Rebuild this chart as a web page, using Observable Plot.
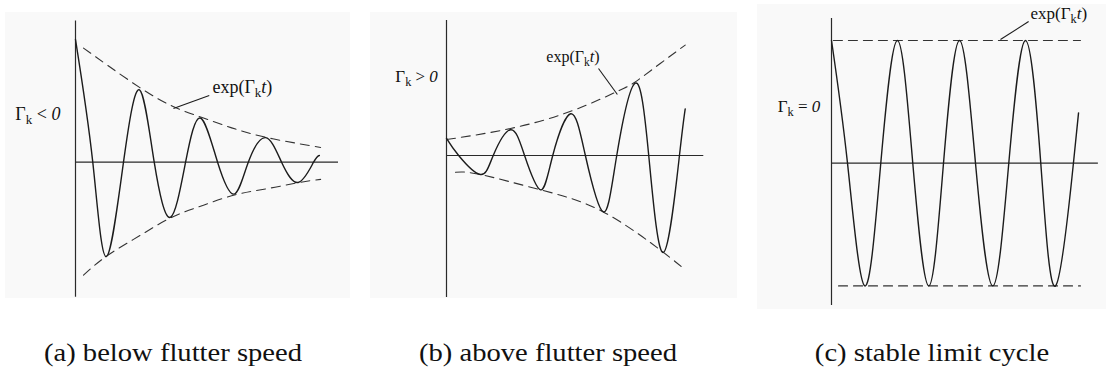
<!DOCTYPE html>
<html>
<head>
<meta charset="utf-8">
<script src="https://cdn.jsdelivr.net/npm/d3@7"></script>
<script src="https://cdn.jsdelivr.net/npm/@observablehq/plot@0.6"></script>
<style>
  html, body { margin: 0; padding: 0; background: #fff; }
  #chart { position: relative; width: 1106px; height: 381px; overflow: hidden;
           font-family: "Liberation Serif", "DejaVu Serif", "Times New Roman", Times, serif; }
  .panel { position: absolute; }
  .caption { position: absolute; top: 340px; font-size: 26px; line-height: 1; white-space: nowrap;
             color: #111; transform: translateX(-50%) scaleX(1.1); }
</style>
</head>
<body>
<div id="chart"></div>
<script>
// Time in oscillation periods, amplitude relative to the initial amplitude of (a).
// Each response is listed by its peaks, troughs and zero crossings.

// (a) damped response, Γk < 0
const timeA = [0, 0.27, 0.48, 0.75, 1.0, 1.23, 1.48, 1.72, 1.95, 2.22, 2.48, 2.70, 2.97, 3.22, 3.48, 3.72, 3.81];
const respA = [1.0, 0, -0.77, 0, 0.59, 0, -0.45, 0, 0.36, 0, -0.26, 0, 0.20, 0, -0.165, 0, 0.055];
const envTimeA = [0.125, 0.5, 1.0, 1.5, 2.0, 2.5, 3.0, 3.5, 3.83];
const envUpperA = [0.93, 0.79, 0.61, 0.46, 0.36, 0.27, 0.20, 0.15, 0.12];
const envLowerA = [-0.92, -0.76, -0.60, -0.45, -0.35, -0.265, -0.215, -0.165, -0.14];

// (b) growing response, Γk > 0
const timeB = [0, 0.19, 0.53, 0.73, 1.0, 1.22, 1.47, 1.66, 1.94, 2.17, 2.45, 2.66, 2.95, 3.16, 3.39, 3.64, 3.73];
const respB = [0.14, 0, -0.155, 0, 0.21, 0, -0.28, 0, 0.34, 0, -0.46, 0, 0.59, 0, -0.79, 0, 0.38];
const envTimeUpperB = [0, 1.0, 1.94, 2.66, 2.95, 3.34, 3.73];
const envUpperB = [0.13, 0.22, 0.36, 0.52, 0.60, 0.75, 0.90];
const envTimeLowerB = [0.14, 0.53, 1.47, 2.45, 3.39, 3.70];
const envLowerB = [-0.136, -0.155, -0.28, -0.46, -0.79, -0.92];

// (c) limit cycle, Γk = 0
const timeC = [0, 0.25, 0.52, 0.77, 1.03, 1.27, 1.52, 1.75, 2.0, 2.25, 2.52, 2.77, 3.03, 3.27, 3.5, 3.78, 3.86];
const respC = [1, 0, -1, 0, 1, 0, -1, 0, 1, 0, -1, 0, 1, 0, -1, 0, 0.41];
const envTimeUpperC = [0.03, 3.89];
const envUpperC = [1.0, 1.0];
const envTimeLowerC = [0.11, 3.89];
const envLowerC = [-1.0, -1.0];

// Labels
const envelopeLabel = "exp(Γkt)";
const rateLabels = ["Γk<0", "Γk>0", "Γk=0"];
const captions = ["(a) below flutter speed", "(b) above flutter speed", "(c) stable limit cycle"];

// Rich versions of the labels (subscript k, italic t and 0)
const richText = {
  "exp(Γkt)": 'exp(Γ<tspan font-size="72%" dy="4">k</tspan><tspan dy="-4" font-style="italic">t</tspan>)',
  "Γk<0": 'Γ<tspan font-size="72%" dy="4">k</tspan><tspan dy="-4"> &lt; </tspan><tspan font-style="italic">0</tspan>',
  "Γk>0": 'Γ<tspan font-size="72%" dy="4">k</tspan><tspan dy="-4"> &gt; </tspan><tspan font-style="italic">0</tspan>',
  "Γk=0": 'Γ<tspan font-size="72%" dy="4">k</tspan><tspan dy="-4"> = </tspan><tspan font-style="italic">0</tspan>'
};

const zip = (ts, vs) => ts.map((t, i) => ({t, v: vs[i]}));

const PX_PER_T = 64;     // pixels per period
const PX_PER_A = 122.7;  // pixels per unit amplitude
const FONT = '"Liberation Serif", "DejaVu Serif", "Times New Roman", Times, serif';

const panels = [
  {
    box: {left: 5, top: 12, width: 345, height: 286},
    originX: 75, zeroY: 161.7, tEnd: 4.11, yTop: 1.15, yBot: -1.1,
    response: zip(timeA, respA),
    upper: zip(envTimeA, envUpperA),
    lower: zip(envTimeA, envLowerA),
    envLabel: {t: 2.14, v: 0.568, size: 18},
    leader: {t1: 1.53, v1: 0.438, t2: 2.09, v2: 0.544},
    rate: {t: -0.94, v: 0.348, text: rateLabels[0], size: 18},
    caption: {text: captions[0], center: 173}
  },
  {
    box: {left: 370, top: 12, width: 367, height: 286},
    originX: 446, zeroY: 155, tEnd: 4.02, yTop: 1.10, yBot: -1.157,
    response: zip(timeB, respB),
    upper: zip(envTimeUpperB, envUpperB),
    lower: zip(envTimeLowerB, envLowerB),
    envLabel: {t: 1.56, v: 0.758, size: 16},
    leader: {t1: 2.375, v1: 0.709, t2: 2.67, v2: 0.497},
    rate: {t: -0.80, v: 0.595, text: rateLabels[1], size: 17},
    caption: {text: captions[1], center: 547.5}
  },
  {
    box: {left: 757, top: 4, width: 349, height: 305},
    originX: 831, zeroY: 162.7, tEnd: 4.17, yTop: 1.18, yBot: -1.16,
    response: zip(timeC, respC),
    upper: zip(envTimeUpperC, envUpperC),
    lower: zip(envTimeLowerC, envLowerC),
    envLabel: {t: 3.11, v: 1.179, size: 17},
    leader: {t1: 2.64, v1: 1.008, t2: 3.08, v2: 1.155},
    rate: {t: -0.84, v: 0.414, text: rateLabels[2], size: 17},
    caption: {text: captions[2], center: 932}
  }
];

const chart = document.getElementById("chart");

for (const p of panels) {
  const x0 = p.originX - p.box.left;
  const y0 = p.zeroY - p.box.top;
  const ink = "#1c1c1c";
  const svg = Plot.plot({
    width: p.box.width,
    height: p.box.height,
    margin: 0,
    x: {domain: [0, p.tEnd], range: [x0, x0 + p.tEnd * PX_PER_T], axis: null},
    y: {domain: [p.yBot, p.yTop], range: [y0 - p.yBot * PX_PER_A, y0 - p.yTop * PX_PER_A], axis: null},
    style: {background: "#f9f9f9", fontFamily: FONT, overflow: "visible"},
    marks: [
      // axes through the origin
      Plot.ruleX([0], {y1: p.yBot, y2: p.yTop, stroke: "#2a2a2a", strokeWidth: 1.2}),
      Plot.ruleY([0], {x1: 0, x2: p.tEnd, stroke: "#2a2a2a", strokeWidth: 1.2}),
      // exponential envelopes
      Plot.line(p.upper, {x: "t", y: "v", curve: "natural", stroke: "#333", strokeWidth: 1.1, strokeDasharray: "9,6"}),
      Plot.line(p.lower, {x: "t", y: "v", curve: "natural", stroke: "#333", strokeWidth: 1.1, strokeDasharray: "9,6"}),
      // oscillation
      Plot.line(p.response, {x: "t", y: "v", curve: "natural", stroke: ink, strokeWidth: 1.4}),
      // envelope callout
      Plot.link([p.leader], {x1: "t1", y1: "v1", x2: "t2", y2: "v2", stroke: ink, strokeWidth: 1.1}),
      Plot.text([p.envLabel], {x: "t", y: "v", text: () => envelopeLabel, textAnchor: "start", lineAnchor: "bottom",
                               fontSize: p.envLabel.size, fill: "#111"}),
      Plot.text([p.rate], {x: "t", y: "v", text: "text", textAnchor: "start", lineAnchor: "bottom",
                           fontSize: p.rate.size, fill: "#111"})
    ]
  });
  svg.classList.add("panel");
  svg.style.left = p.box.left + "px";
  svg.style.top = p.box.top + "px";
  // subscripts and italics inside the labels
  svg.querySelectorAll("text").forEach(el => {
    const key = el.textContent;
    if (richText[key]) el.innerHTML = richText[key];
  });
  chart.appendChild(svg);

  const cap = document.createElement("div");
  cap.className = "caption";
  cap.style.left = p.caption.center + "px";
  cap.textContent = p.caption.text;
  chart.appendChild(cap);
}
</script>
</body>
</html>
